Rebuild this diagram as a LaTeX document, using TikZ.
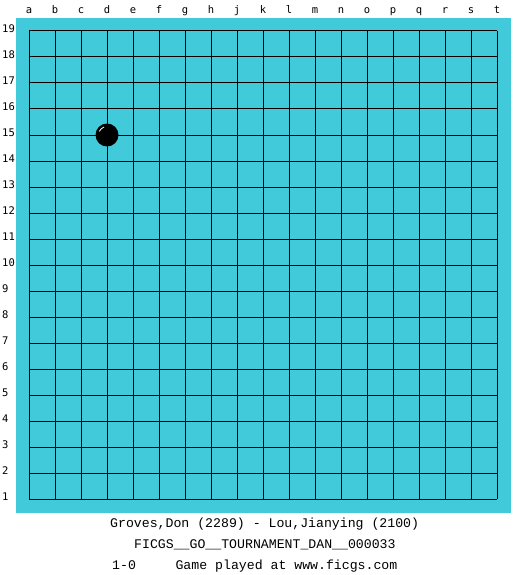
\documentclass[tikz,border=0pt]{standalone}
\usepackage{fontspec}
\setmonofont{Liberation Mono}
\newfontfamily\labfont{DejaVu Sans Mono}
\definecolor{board}{RGB}{64,202,218}
\begin{document}
\begin{tikzpicture}[x=1pt,y=-1pt,
  gridline/.style={black,line width=1pt},
  collab/.style={font=\labfont\fontsize{10.5}{10.5}\selectfont,anchor=base,inner sep=0},
  rowlab/.style={font=\labfont\fontsize{10.5}{10.5}\selectfont,anchor=west,inner sep=0},
  info/.style={font=\ttfamily\fontsize{13.2}{13.2}\selectfont,anchor=west,inner sep=0}]
\useasboundingbox (0,0) rectangle (525,575);
\fill[white] (0,0) rectangle (525,575);
\fill[board] (16,18) rectangle (511,513);
\foreach \i in {0,...,18} {
  \draw[gridline] (29+\i*26,31) -- (29+\i*26,499);
  \draw[gridline] (29,31+\i*26) -- (497,31+\i*26);
}
\foreach \l [count=\i from 0] in {a,b,c,d,e,f,g,h,j,k,l,m,n,o,p,q,r,s,t} {
  \node[collab] (col\l) at (29+\i*26,14) {\l};
}
\foreach \r in {1,...,19} {
  \node[rowlab] (row\r) at (2,{31+(19-\r)*26-2}) {\r};
}
\fill[black] (107,135) circle (11.5);
\draw[white,line width=0.8pt] (107,135) ++(-155:8.5) arc (-155:-110:8.5);
\node[info] (players) at (110,524) {Groves,Don (2289) - Lou,Jianying (2100)};
\node[info] (event) at (134,545) {FICGS\_\_GO\_\_TOURNAMENT\_DAN\_\_000033};
\node[info] (result) at (112,566) {1-0\ \ \ \ \ Game played at www.ficgs.com};
\end{tikzpicture}
\end{document}
